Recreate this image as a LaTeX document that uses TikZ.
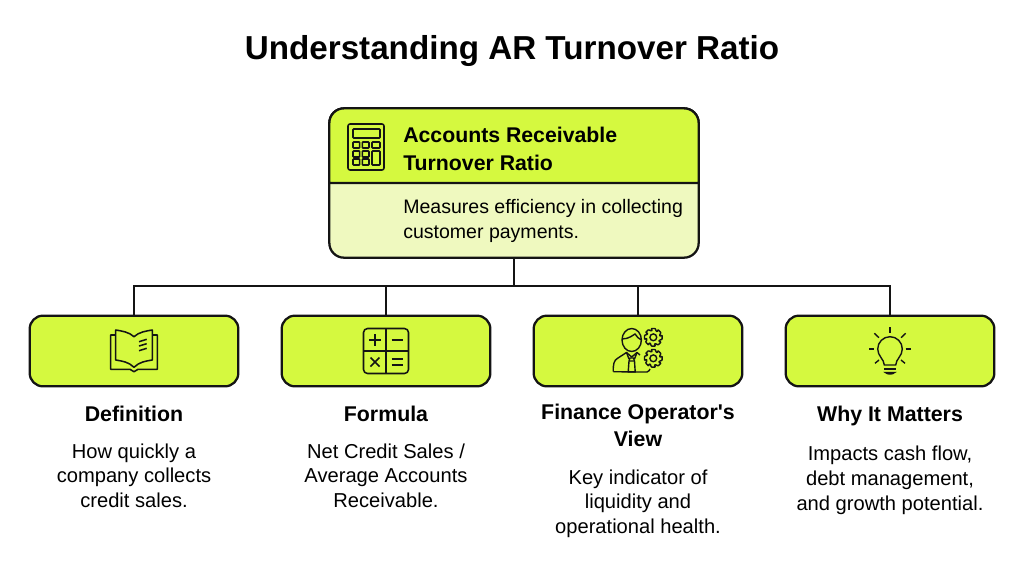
\documentclass[tikz,border=0pt]{standalone}
\usepackage{fontspec}
\setmainfont{Liberation Sans}[Ligatures=TeXOff]
\usetikzlibrary{positioning}

\definecolor{limefill}{HTML}{D5F93F}
\definecolor{palefill}{HTML}{EFF9BF}
\definecolor{inkline}{HTML}{141414}

\tikzset{
  calcicon/.pic={
    \draw[iconline, rounded corners=1.5pt] (-18,-23) rectangle (18,23);
    \draw[iconline, rounded corners=.6pt] (-13,-18) rectangle (14,-9);
    \foreach \x in {-13,-3.7} {
      \foreach \y in {-5,4,12}
        \draw[iconline, rounded corners=.5pt] (\x,\y) rectangle ++(6.7,6);
    }
    \draw[iconline, rounded corners=.5pt] (6,-5) rectangle ++(8,6);
    \draw[iconline, rounded corners=.5pt] (6,4) rectangle (14,18);
  },
  bookicon/.pic={
    \draw[iconline, line join=round] (0,-14.3) .. controls (-5,-19) and (-12,-20) .. (-18.3,-21)
      -- (-18.3,9) .. controls (-12,10) and (-5,11) .. (0,16.3)
      .. controls (5,11) and (12,10) .. (18.3,9) -- (18.3,-21)
      .. controls (12,-20) and (5,-19) .. (0,-14.3) -- cycle;
    \draw[iconline, line join=round] (-18.3,-16) -- (-23.3,-16) -- (-23.3,18.3) -- (-4,18.3)
      -- (0,20.7) -- (4,18.3) -- (23.3,18.3) -- (23.3,-16) -- (18.3,-16);
    \draw[iconline] (5,-9.3) -- (12.7,-11.7) (5,-5) -- (12.7,-7.3) (5,-.3) -- (12.7,-2.7);
  },
  mathicon/.pic={
    \draw[iconline, rounded corners=3pt] (-22.5,-22.5) rectangle (22.5,22.5);
    \draw[iconline] (0,-22.5) -- (0,22.5) (-22.5,0) -- (22.5,0);
    \draw[iconline] (-17,-11) -- (-5,-11) (-11,-17) -- (-11,-5);
    \draw[iconline] (5.5,-11) -- (16.5,-11);
    \draw[iconline] (-15.5,6.5) -- (-6.5,15.5) (-15.5,15.5) -- (-6.5,6.5);
    \draw[iconline] (5.5,8) -- (16.5,8) (5.5,14) -- (16.5,14);
  },
  gearicon/.pic={
    \draw[thinicon, rounded corners=.4pt] (-10:6.8)
      \foreach \a in {0,45,...,315} { -- ({\a-13}:9) -- ({\a+13}:9) -- ({\a+25}:6.8) -- ({\a+35}:6.8) } -- cycle;
    \draw[thinicon] (0,0) circle (3.4);
  },
  operatoricon/.pic={
    \draw[thinicon] (-6.3,-11) ellipse (9.7 and 11.5);
    \draw[thinicon] (-16,-12) .. controls (-9,-12) and (-5,-16) .. (-3,-17) .. controls (-1,-14) and (1,-12) .. (3.4,-11);
    \draw[thinicon, line join=round] (-24.7,20.7) .. controls (-25,13) and (-24,9) .. (-20,7)
      -- (-11.5,1.5) -- (-6.3,6) -- (-1,1.5) -- (2,4);
    \draw[thinicon] (-24.7,20.7) -- (3,21) (3,21) -- (9,21) .. controls (11,20.5) and (11.5,19) .. (12,18);
    \draw[thinicon, line join=round] (-8,7) -- (-4.5,7) -- (-3.5,10) -- (-2.8,21) -- (-9.8,21) -- (-9,10) -- cycle;
    \draw[thinicon] (-9,10) -- (-3.5,10) (-11.5,1.5) -- (-9,8) (-1,1.5) -- (-3.5,8);
    \pic at (15.3,-13.7) {gearicon};
    \pic at (15.3,7.3) {gearicon};
  },
  bulbicon/.pic={
    \draw[thinicon] (-5.7,14) .. controls (-6,8) and (-12.3,5) .. (-12.3,-2)
      arc (180:360:12.3) .. controls (12.3,5) and (6,8) .. (5.7,14) -- cycle;
    \draw[thinicon] (-5.7,18) -- (5.7,18);
    \draw[thinicon] (-4.5,21.5) .. controls (-3,23.5) and (3,23.5) .. (4.5,21.5) -- cycle;
    \draw[thinicon] (0,-24) -- (0,-18) (-21,-2) -- (-15.7,-2) (15.7,-2) -- (21,-2);
    \draw[thinicon] (-15.7,-17.7) -- (-11,-13.3) (15.7,-17.7) -- (11,-13.3);
    \draw[thinicon] (-15,12.3) -- (-11,9) (15,12.3) -- (11,9);
  }
}

\begin{document}
\begin{tikzpicture}[x=0.75pt, y=-0.75pt, align=flush center,
    boxline/.style={draw=inkline, line width=1.7pt},
    iconline/.style={draw=inkline, line width=1.15pt},
    thinicon/.style={draw=inkline, line width=1.05pt},
    link/.style={draw=inkline, line width=1.4pt},
    card/.style={boxline, fill=limefill, rounded corners=10pt, inner sep=0pt, outer sep=0pt,
      minimum width=156.5pt, minimum height=53pt},
    heading/.style={inner sep=0pt, text width=165pt, text=black,
      font=\fontsize{16}{20.3}\selectfont\bfseries},
    blurb/.style={inner sep=0pt, text width=165pt, text=black,
      font=\fontsize{15.1}{18.4}\selectfont}
    ]
    \useasboundingbox (0,0) rectangle (1024,572);

    \node (title) [inner sep=0pt, font=\fontsize{24.9}{30}\selectfont\bfseries] at (512,51)
      {Understanding AR Turnover Ratio};

    % root box
    \node (root) [boxline, fill=palefill, rounded corners=11pt, minimum width=277pt,
      minimum height=112pt, inner sep=0pt, outer sep=0pt] at (514,183) {};
    \draw[boxline, fill=limefill] (root.west) {[rounded corners=11pt] -- (root.north west)
      -- (root.north east)} -- (root.east) -- cycle;
    \pic at (366,147) {calcicon};
    \node (roothead) [anchor=west, inner sep=0pt, align=left,
      font=\fontsize{15.95}{21}\selectfont\bfseries] at (403,149)
      {Accounts Receivable\\Turnover Ratio};
    \node (rootblurb) [anchor=west, inner sep=0pt, align=left,
      font=\fontsize{14.65}{18.6}\selectfont] at (403,221)
      {Measures efficiency in collecting\\customer payments.};

    % cards
    \node[card] (defcard) at (134,351) {};
    \node[card] (formcard) [right=32.5pt of defcard]  {};
    \node[card] (viewcard) [right=32.5pt of formcard] {};
    \node[card] (whycard)  [right=32.5pt of viewcard] {};

    \pic at (defcard)  {bookicon};
    \pic at (formcard) {mathicon};
    \pic at (viewcard) {operatoricon};
    \pic at (whycard)  {bulbicon};

    % labels
    \node[heading] (defhead)  [below=14.25pt of defcard]  {Definition};
    \node[heading] (formhead) [below=14.25pt of formcard] {Formula};
    \node[heading] (viewhead) [below=13.25pt of viewcard] {Finance Operator's\\View};
    \node[heading] (whyhead)  [below=14.25pt of whycard]  {Why It Matters};

    \node[blurb] (defblurb)  [below=16.5pt of defhead]  {How quickly a\\company collects\\credit sales.};
    \node[blurb] (formblurb) [below=16.5pt of formhead] {Net Credit Sales /\\Average Accounts\\Receivable.};
    \node[blurb] (viewblurb) [below=16.5pt of viewhead] {Key indicator of\\liquidity and\\operational health.};
    \node[blurb] (whyblurb)  [below=15.25pt of whyhead]  {Impacts cash flow,\\debt management,\\and growth potential.};

    % connectors
    \coordinate (bus) at (514,286);
    \draw[link] (root.south) -- (bus);
    \draw[link] (bus) -| (defcard.north);
    \draw[link] (bus) -| (formcard.north);
    \draw[link] (bus) -| (viewcard.north);
    \draw[link] (bus) -| (whycard.north);
  \end{tikzpicture}
\end{document}
